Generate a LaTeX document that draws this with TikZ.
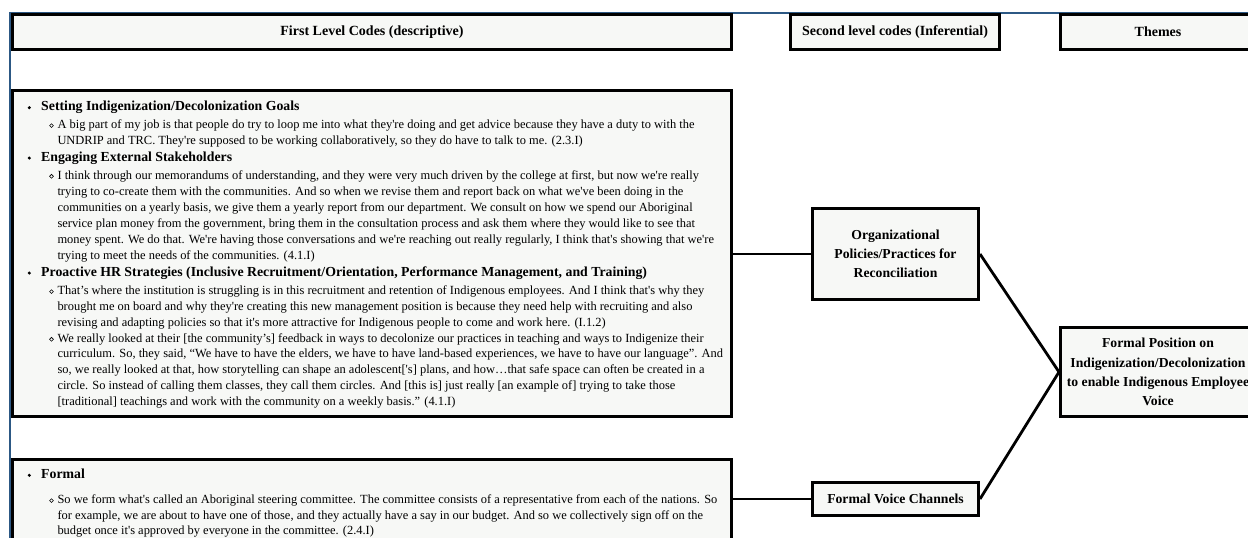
\documentclass[tikz,border=0pt]{standalone}
\usepackage{fontspec}
\setmainfont{Liberation Serif}
% plain family: keeps straight apostrophes as typed
\newfontfamily\tnr{Liberation Serif}
\begin{document}
\definecolor{boxfill}{RGB}{247,248,246}
\definecolor{frameblue}{RGB}{44,88,132}
\begin{tikzpicture}[x=1pt,y=-1pt,
  box/.style={draw=black, line width=2.6pt, fill=boxfill, inner sep=0pt},
  hdr/.style={box, font=\tnr\fontsize{14}{17}\selectfont\bfseries},
  code/.style={box, font=\tnr\fontsize{13.7}{19.3}\selectfont\bfseries, align=center},
  quotebox/.style={box},
  headtxt/.style={anchor=base west, inner sep=0pt, font=\tnr\fontsize{13.8}{16}\selectfont\bfseries},
  bodytxt/.style={anchor=base west, inner sep=0pt, font=\tnr\fontsize{12.45}{14}\selectfont},
  link/.style={draw=black, line width=2.8pt},
  frameline/.style={draw=frameblue, line width=1.3pt}]
\useasboundingbox (0,0) rectangle (1248,538);
\clip (0,0) rectangle (1248,538);
\fill[white] (0,0) rectangle (1248,538);

% outer frame edge
\draw[frameline] (10,545) -- (10,13) -- (1255,13);

% column headers
\node[hdr, minimum width=719.4pt, minimum height=34.8pt] (h1) at (372,32) {First Level Codes (descriptive)};
\node[hdr, minimum width=209.4pt, minimum height=34.8pt] (h2) at (895,32) {Second level codes (Inferential)};
\node[hdr, minimum width=195.4pt, minimum height=34.8pt] (h3) at (1158,32) {Themes};

% first-level code boxes
\node[quotebox, minimum width=719.4pt, minimum height=326.4pt] (b1) at (372,253.5) {};
\node[quotebox, minimum width=719.4pt, minimum height=100.7pt] (b2) at (372,509.65) {};

% second-level codes and theme
\node[code, minimum width=166.4pt, minimum height=91.4pt] (org) at (895.5,254) {Organizational\\Policies/Practices for\\Reconciliation};
\node[code, minimum width=166.4pt, minimum height=33.4pt] (fvc) at (895.5,499) {Formal Voice Channels};
\node[code, minimum width=195.4pt, minimum height=89.4pt] (theme) at (1158,372) {Formal Position on\\Indigenization/Decolonization\\to enable Indigenous Employee\\Voice};

% connectors
\draw[link] (org.west) -- (org.west -| b1.east);
\draw[link] (fvc.west) -- (fvc.west -| b2.east);
\draw[link] (org.east) -- (theme.west);
\draw[link] (fvc.east) -- (theme.west);

% bullets
\foreach \y in {110.7,161,276,478.3}
  \fill (29.3,\y-3) circle[radius=1.7pt];
\foreach \y in {128.3,179,294.3,342,503.3}
  \draw[line width=0.6pt] (51.5,\y-2.7) circle[radius=1.9pt];

% first box text
\node[headtxt] (s1) at (41,110.7) {Setting Indigenization/Decolonization Goals};
\node[bodytxt] (s1a) at (57.3,128.3) {A big part of my job is that people do try to loop me into what they're doing and get advice because they have a duty to with the};
\node[bodytxt] (s1b) at (57.3,144) {UNDRIP and TRC. They're supposed to be working collaboratively, so they do have to talk to me. (2.3.I)};

\node[headtxt] (s2) at (41,161) {Engaging External Stakeholders};
\node[bodytxt] (s2a) at (57.3,179) {I think through our memorandums of understanding, and they were very much driven by the college at first, but now we're really};
\node[bodytxt] (s2b) at (57.3,195) {trying to co-create them with the communities. And so when we revise them and report back on what we've been doing in the};
\node[bodytxt] (s2c) at (57.3,211) {communities on a yearly basis, we give them a yearly report from our department. We consult on how we spend our Aboriginal};
\node[bodytxt] (s2d) at (57.3,227) {service plan money from the government, bring them in the consultation process and ask them where they would like to see that};
\node[bodytxt] (s2e) at (57.3,243) {money spent. We do that. We're having those conversations and we're reaching out really regularly, I think that's showing that we're};
\node[bodytxt] (s2f) at (57.3,259) {trying to meet the needs of the communities. (4.1.I)};

\node[headtxt] (s3) at (41,276) {Proactive HR Strategies (Inclusive Recruitment/Orientation, Performance Management, and Training)};
\node[bodytxt] (s3a) at (57.3,294.3) {That’s where the institution is struggling is in this recruitment and retention of Indigenous employees. And I think that's why they};
\node[bodytxt] (s3b) at (57.3,310) {brought me on board and why they're creating this new management position is because they need help with recruiting and also};
\node[bodytxt] (s3c) at (57.3,326) {revising and adapting policies so that it's more attractive for Indigenous people to come and work here. (I.1.2)};
\node[bodytxt] (s3d) at (57.3,342) {We really looked at their [the community’s] feedback in ways to decolonize our practices in teaching and ways to Indigenize their};
\node[bodytxt] (s3e) at (57.3,357.7) {curriculum. So, they said, “We have to have the elders, we have to have land-based experiences, we have to have our language”. And};
\node[bodytxt] (s3f) at (57.3,373.5) {so, we really looked at that, how storytelling can shape an adolescent['s] plans, and how…that safe space can often be created in a};
\node[bodytxt] (s3g) at (57.3,389.3) {circle. So instead of calling them classes, they call them circles. And [this is] just really [an example of] trying to take those};
\node[bodytxt] (s3h) at (57.3,405) {[traditional] teachings and work with the community on a weekly basis.” (4.1.I)};

% second box text
\node[headtxt] (s4) at (41,478.3) {Formal};
\node[bodytxt] (s4a) at (57.3,503.3) {So we form what's called an Aboriginal steering committee. The committee consists of a representative from each of the nations. So};
\node[bodytxt] (s4b) at (57.3,519) {for example, we are about to have one of those, and they actually have a say in our budget. And so we collectively sign off on the};
\node[bodytxt] (s4c) at (57.3,534.7) {budget once it's approved by everyone in the committee. (2.4.I)};
\end{tikzpicture}
\end{document}
